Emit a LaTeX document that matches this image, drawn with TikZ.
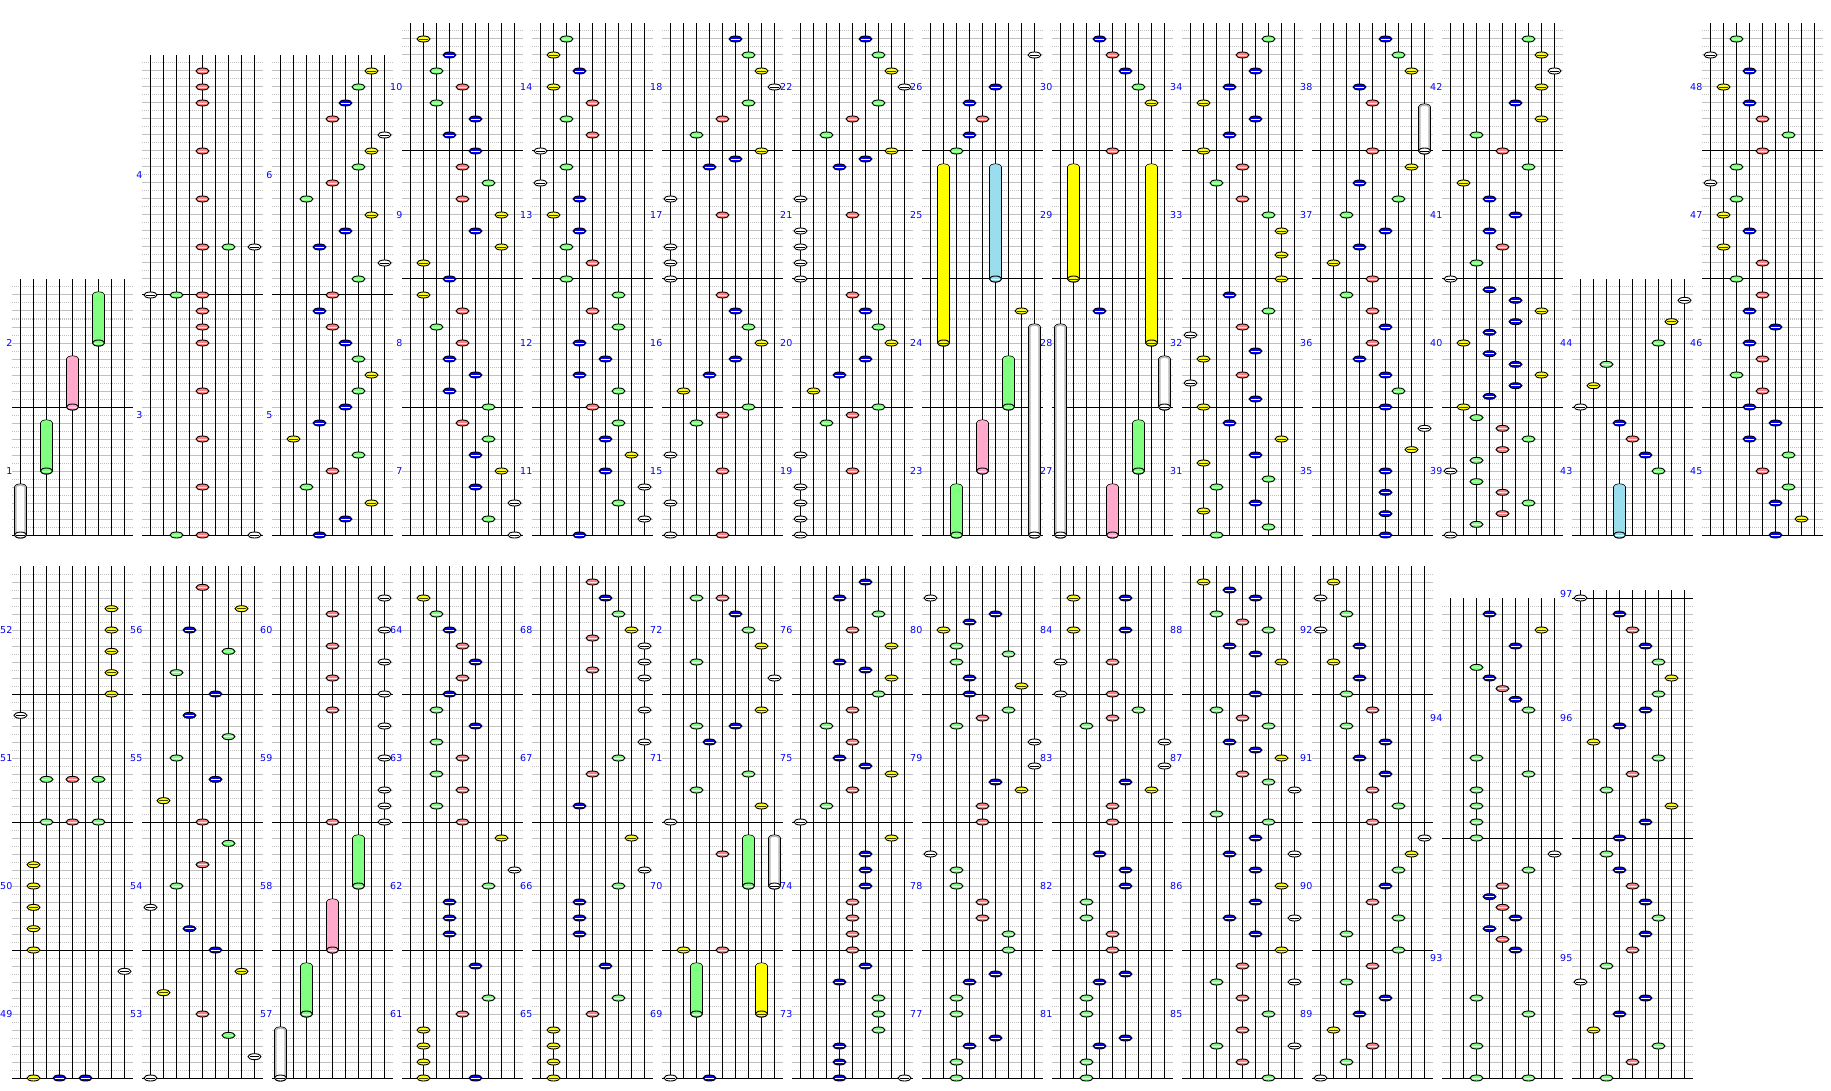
\documentclass[tikz,border=0pt]{standalone}
\usepackage{fontspec}
\setmainfont{DejaVu Sans}
\definecolor{nY}{HTML}{FFFF00}
\definecolor{nG}{HTML}{80FF80}
\definecolor{nB}{HTML}{0000FF}
\definecolor{nR}{HTML}{FF8080}
\definecolor{lBl}{HTML}{99DDEE}
\definecolor{lPk}{HTML}{FFAACC}
\definecolor{gridgray}{HTML}{C0C0C0}
\definecolor{labelblue}{HTML}{0000FF}
\definecolor{stG}{HTML}{D8FFD8}
\definecolor{stR}{HTML}{FFE0E0}
\definecolor{stY}{HTML}{404000}
\definecolor{edgeW}{HTML}{B8B8B8}
\colorlet{n1}{white}\colorlet{n2}{nY}\colorlet{n3}{nG}\colorlet{n4}{nB}\colorlet{n5}{nR}\colorlet{n6}{nB}\colorlet{n7}{nG}\colorlet{n8}{nY}\colorlet{n9}{white}
\colorlet{s1}{black}\colorlet{s2}{stY}\colorlet{s3}{stG}\colorlet{s4}{white}\colorlet{s5}{stR}\colorlet{s6}{white}\colorlet{s7}{stG}\colorlet{s8}{stY}\colorlet{s9}{black}
\colorlet{l1}{white}\colorlet{l2}{nY}\colorlet{l3}{nG}\colorlet{l4}{lBl}\colorlet{l5}{lPk}\colorlet{l6}{lBl}\colorlet{l7}{nG}\colorlet{l8}{nY}\colorlet{l9}{white}
\colorlet{e1}{edgeW}\colorlet{e2}{nY}\colorlet{e3}{nG}\colorlet{e4}{lBl}\colorlet{e5}{lPk}\colorlet{e6}{lBl}\colorlet{e7}{nG}\colorlet{e8}{nY}\colorlet{e9}{edgeW}
\tikzset{
  gridsolid/.style={draw=gridgray,line width=1pt},
  griddot/.style={draw=gridgray,line width=1pt,dash pattern=on 1pt off 1pt},
  laneline/.style={draw=black,line width=1pt},
  barline/.style={draw=black,line width=1pt},
  notebody/.style={draw=black,line width=0.9pt},
  lbl/.style={text=labelblue,font=\fontsize{9.5}{10}\selectfont,inner sep=0pt,anchor=east},
}
\newcommand\GridPanel[3]{%
  \pgfmathsetmacro\gxa{130*#1+12}%
  \pgfmathsetmacro\gxb{130*#1+133}%
  \pgfmathtruncatemacro\gnm{#3-1}%
  \foreach \gi in {1,...,\gnm} {%
    \pgfmathsetmacro\gy{#2-8*\gi}%
    \ifodd\gi\relax \draw[griddot] (\gxa,\gy) -- (\gxb,\gy);\else \draw[gridsolid] (\gxa,\gy) -- (\gxb,\gy);\fi
  }%
  \foreach \gk in {0,...,8} {%
    \pgfmathsetmacro\gx{130*#1+20.5+13*\gk}%
    \draw[laneline] (\gx,#2) -- (\gx,#2-8*#3);
  }%
}
\newcommand\BarAt[2]{\draw[barline] (130*#1+12,#2) -- (130*#1+133,#2);}
\newcommand\Nt[4]{%
  \pgfmathsetmacro\nx{130*#1+20.5+13*(#3-1)}%
  \pgfmathsetmacro\ny{#2-8*#4}%
  \filldraw[notebody,fill=n#3] (\nx,\ny) ellipse [x radius=6.5pt,y radius=3pt];
  \draw[draw=s#3,line width=0.9pt] (\nx-4.5,\ny) -- (\nx+4.5,\ny);
}
\newcommand\Ln[5]{%
  \pgfmathsetmacro\nx{130*#1+20.5+13*(#3-1)}%
  \pgfmathsetmacro\ya{#2-8*#4}%
  \pgfmathsetmacro\yb{#2-8*#5}%
  \filldraw[notebody,fill=l#3] (\nx-6,\ya) -- (\nx-6,\yb) arc[start angle=180,end angle=0,x radius=6pt,y radius=3pt] -- (\nx+6,\ya) arc[start angle=0,end angle=-180,x radius=6pt,y radius=3pt] -- cycle;
  \draw[draw=e#3,line width=1.6pt] (\nx-4.6,\ya) -- (\nx-4.6,\yb) arc[start angle=180,end angle=0,x radius=4.6pt,y radius=2pt] -- (\nx+4.6,\ya);
  \filldraw[notebody,fill=l#3] (\nx,\ya) ellipse [x radius=6pt,y radius=3pt];
  \draw[draw=s#3,line width=0.9pt] (\nx-4.5,\ya) -- (\nx+4.5,\ya);
}
\newcommand\Notes[3]{\foreach \nl/\nr in {#3} {\Nt{#1}{#2}{\nl}{\nr}}}
\newcommand\Longs[3]{\foreach \nl/\na/\nb in {#3} {\Ln{#1}{#2}{\nl}{\na}{\nb}}}
\begin{document}
\begin{tikzpicture}[x=1pt,y=-1pt]
\useasboundingbox (0,0) rectangle (1831,1091);
\fill[white] (0,0) rectangle (1831,1091);
% ---------- grids ----------
\GridPanel{0}{535}{32}
\GridPanel{1}{535}{60}
\GridPanel{2}{535}{60}
\foreach \c in {3,4,5,6,7,8,9,10,11,13} {\GridPanel{\c}{535}{64}}
\GridPanel{12}{535}{32}
\foreach \c in {0,1,2,3,4,5,6,7,8,9,10} {\GridPanel{\c}{1078}{64}}
\GridPanel{11}{1078}{60}
\GridPanel{12}{1078}{61}
% ---------- bar lines ----------
\foreach \c in {0,12} {\BarAt{\c}{535}\BarAt{\c}{407}}
\foreach \c in {1,2} {\BarAt{\c}{535}\BarAt{\c}{295}}
\foreach \c in {3,4,5,6,7,8,9,10,11,13} {\BarAt{\c}{535}\BarAt{\c}{407}\BarAt{\c}{279}\BarAt{\c}{151}}
\foreach \c in {0,1,2,3,4,5,6,7,8,9,10} {\BarAt{\c}{1078}\BarAt{\c}{950}\BarAt{\c}{822}\BarAt{\c}{694}}
\BarAt{11}{1078}\BarAt{11}{838}
\BarAt{12}{1078}\BarAt{12}{838}\BarAt{12}{598}
% ---------- long notes ----------
\Longs{0}{535}{1/0/6,3/8/14,5/16/22,7/24/30}
\Longs{7}{535}{3/0/6,5/8/14,7/16/22,9/0/26,2/24/46,6/32/46}
\Longs{8}{535}{1/0/26,5/0/6,7/8/14,9/16/22,2/32/46,8/24/46}
\Longs{10}{535}{9/48/53.5}
\Longs{12}{535}{4/0/6}
\Longs{2}{1078}{1/0/6,3/8/14,5/16/22,7/24/30}
\Longs{5}{1078}{3/8/14,8/8/14,7/24/30,9/24/30}
% ---------- notes, top row ----------
\Notes{1}{535}{3/0,5/0,9/0,5/6,5/12,5/18,5/24,5/26,5/28,1/30,3/30,5/30,5/36,7/36,9/36,5/42,5/48,5/54,5/56,5/58}
\Notes{2}{535}{4/0,6/2,8/4,3/6,5/8,7/10,2/12,4/14,6/16,7/18,8/20,7/22,6/24,5/26,4/28,5/30,7/32,9/34,4/36,6/38,8/40,3/42,5/44,7/46,8/48,9/50,5/52,6/54,7/56,8/58}
\Notes{3}{535}{9/0,7/2,9/4,6/6,8/8,6/10,7/12,5/14,7/16,4/18,6/20,4/22,5/24,3/26,5/28,2/30,4/32,2/34,8/36,6/38,8/40,5/42,7/44,5/46,6/48,4/50,6/52,3/54,5/56,3/58,4/60,2/62}
\Notes{4}{535}{4/0,9/2,7/4,9/6,6/8,8/10,6/12,7/14,5/16,7/18,4/20,6/22,4/24,7/26,5/28,7/30,3/32,5/34,3/36,4/38,2/40,4/42,1/44,3/46,1/48,5/50,3/52,5/54,2/56,4/58,2/60,3/62}
\Notes{5}{535}{1/0,5/0,1/4,5/8,1/10,3/14,5/15,7/16,2/18,4/20,6/22,8/24,7/26,6/28,5/30,1/32,1/34,1/36,5/40,1/42,4/46,6/47,8/48,3/50,5/52,7/54,9/56,8/58,7/60,6/62}
\Notes{6}{535}{1/0,1/2,1/4,1/6,5/8,1/10,3/14,5/15,7/16,2/18,4/20,6/22,8/24,7/26,6/28,5/30,1/32,1/34,1/36,1/38,5/40,1/42,4/46,6/47,8/48,3/50,5/52,7/54,9/56,8/58,7/60,6/62}
\Notes{7}{535}{8/28,3/48,4/50,5/52,4/54,6/56,9/60}
\Notes{8}{535}{4/28,5/48,8/54,7/56,6/58,5/60,4/62}
\Notes{9}{535}{3/0,7/1,2/3,6/4,3/6,7/7,2/9,6/10,8/12,4/14,2/16,6/17,1/19,5/20,2/22,6/23,1/25,5/26,7/28,4/30,8/32,8/35,8/38,7/40,5/42,3/44,5/46,2/48,4/50,6/52,2/54,4/56,6/58,5/60,7/62}
\Notes{10}{535}{6/0,6/2.667,6/5.333,6/8,8/10.667,9/13.333,6/16,7/18,6/20,4/22,5/24,6/26,5/28,3/30,5/32,2/34,4/36,6/38,3/40,7/42,4/44,8/46,5/48,5/54,4/56,8/58,7/60,6/62}
\Notes{11}{535}{1/0,3/1.333,5/2.667,7/4,5/5.333,3/6.667,1/8,3/9.333,5/10.667,7/12,5/13.333,3/14.667,2/16,4/17.333,6/18.667,8/20,6/21.333,4/22.667,2/24,4/25.333,6/26.667,8/28,6/29.333,4/30.667,1/32,3/34,5/36,4/38,6/40,4/42,2/44,7/46,5/48,3/50,8/52,6/54,8/56,9/58,8/60,7/62}
\Notes{12}{535}{7/8,6/10,5/12,4/14,1/16,2/18.667,3/21.333,7/24,8/26.667,9/29.333}
\Notes{13}{535}{6/0,8/2,6/4,7/6,5/8,7/10,4/12,6/14,4/16,5/18,3/20,5/22,4/24,6/26,4/28,5/30,3/32,5/34,2/36,4/38,2/40,3/42,1/44,3/46,5/48,7/50,5/52,4/54,2/56,4/58,1/60,3/62}
% ---------- notes, bottom row ----------
\Notes{0}{1078}{2/0,4/0,6/0,9/13.333,2/16,2/18.667,2/21.333,2/24,2/26.667,3/32,5/32,7/32,3/37.333,5/37.333,7/37.333,1/45.333,8/48,8/50.667,8/53.333,8/56,8/58.667}
\Notes{1}{1078}{1/0,9/2.667,7/5.333,5/8,2/10.667,8/13.333,6/16,4/18.667,1/21.333,3/24,5/26.667,7/29.333,5/32,2/34.667,6/37.333,3/40,7/42.667,4/45.333,6/48,3/50.667,7/53.333,4/56,8/58.667,5/61.333}
\Notes{2}{1078}{5/32,9/32,9/34,9/36,9/40,9/44,5/46,9/48,5/50,9/52,5/54,9/56,5/58,9/60}
\Notes{3}{1078}{2/0,6/0,2/2,2/4,2/6,5/8,7/10,6/14,4/18,4/20,4/22,7/24,9/26,8/30,5/32,3/34,5/36,3/38,5/40,3/42,6/44,3/46,4/48,5/50,6/52,5/54,4/56,3/58,2/60}
\Notes{4}{1078}{2/0,2/2,2/4,2/6,5/8,7/10,6/14,4/18,4/20,4/22,7/24,9/26,8/30,4/34,5/38,7/40,9/42,9/46,9/50,5/51,9/52,9/54,5/55,8/56,7/58,6/60,5/62}
\Notes{5}{1078}{1/0,4/0,2/16,5/16,5/28,1/32,8/34,3/36,7/38,4/42,3/44,6/44,8/46,9/50,3/52,8/54,7/56,6/58,3/60,5/60}
\Notes{6}{1078}{4/0,9/0,4/2,4/4,7/6,7/8,7/10,4/12,6/14,5/16,5/18,5/20,5/22,6/24,6/26,6/28,8/30,1/32,3/34,5/36,8/38,6/39,4/40,5/42,3/44,5/46,7/48,8/50,6/51,4/52,8/54,5/56,7/58,4/60,6/62}
\Notes{7}{1078}{3/0,3/2,4/4,6/5,3/8,3/10,4/12,6/13,7/16,7/18,5/20,5/22,3/24,3/26,1/28,5/32,5/34,8/36,6/37,9/39,9/42,3/44,5/45,7/46,4/48,8/49,4/50,3/52,7/53,3/54,2/56,4/57,6/58,1/60}
\Notes{8}{1078}{3/0,3/2,4/4,6/5,3/8,3/10,4/12,6/13,5/16,5/18,3/20,3/22,6/24,6/26,4/28,5/32,5/34,8/36,6/37,9/39,9/42,3/44,5/45,7/46,1/48,5/48,1/52,5/52,2/56,6/56,2/60,6/60}
\Notes{9}{1078}{7/0,5/2,3/4,9/4,5/6,7/8,5/10,3/12,9/12,5/14,8/16,6/18,4/20,9/20,6/22,8/24,6/26,4/28,9/28,6/30,7/32,3/33,9/36,7/37,5/38,8/40,6/41,4/42,7/44,5/45,3/46,6/48,8/52,6/53,4/54,7/56,5/57,3/58,6/60,4/61,2/62}
\Notes{10}{1078}{1/0,3/2,5/4,2/6,4/8,6/10,3/12,5/14,7/16,3/18,7/20,5/22,6/24,7/26,8/28,9/30,5/32,7/34,5/36,6/38,4/40,6/42,3/44,5/46,3/48,4/50,2/52,4/54,1/56,3/58,1/60,2/62}
\Notes{11}{1078}{3/0,7/0,3/4,7/8,3/10,6/16,5/17.333,4/18.667,6/20,5/21.333,4/22.667,5/24,7/26,9/28,3/30,3/32,3/34,3/36,7/38,3/40,7/46,6/47.333,5/48.667,4/50,3/51.333,6/54,8/56,4/58}
\Notes{12}{1078}{3/0,5/2,7/4,2/6,4/8,6/10,1/12,3/14,5/16,6/18,7/20,6/22,5/24,4/26,3/28,4/30,6/32,8/34,3/36,5/38,7/40,2/42,4/44,6/46,7/48,8/50,7/52,6/54,5/56,4/58,1/60}
% ---------- labels ----------
\node[lbl] (m1) at (12.5,471) {1};
\node[lbl] (m2) at (12.5,343) {2};
\node[lbl] (m3) at (142.5,415) {3};
\node[lbl] (m4) at (142.5,175) {4};
\node[lbl] (m5) at (272.5,415) {5};
\node[lbl] (m6) at (272.5,175) {6};
\foreach \c in {3,4,5,6,7,8,9,10,11} {
  \foreach \j in {0,1,2,3} {
    \pgfmathtruncatemacro\mnum{4*\c-5+\j}
    \pgfmathsetmacro\my{471-128*\j}
    \node[lbl] (m\mnum) at (130*\c+12.5,\my) {\mnum};
  }
}
\node[lbl] (m43) at (1572.5,471) {43};
\node[lbl] (m44) at (1572.5,343) {44};
\foreach \j in {0,1,2,3} {
  \pgfmathtruncatemacro\mnum{45+\j}
  \pgfmathsetmacro\my{471-128*\j}
  \node[lbl] (m\mnum) at (1702.5,\my) {\mnum};
}
\foreach \c in {0,1,2,3,4,5,6,7,8,9,10} {
  \foreach \j in {0,1,2,3} {
    \pgfmathtruncatemacro\mnum{49+4*\c+\j}
    \pgfmathsetmacro\my{1014-128*\j}
    \node[lbl] (m\mnum) at (130*\c+12.5,\my) {\mnum};
  }
}
\node[lbl] (m93) at (1442.5,958) {93};
\node[lbl] (m94) at (1442.5,718) {94};
\node[lbl] (m95) at (1572.5,958) {95};
\node[lbl] (m96) at (1572.5,718) {96};
\node[lbl] (m97) at (1572.5,594) {97};
\end{tikzpicture}
\end{document}
